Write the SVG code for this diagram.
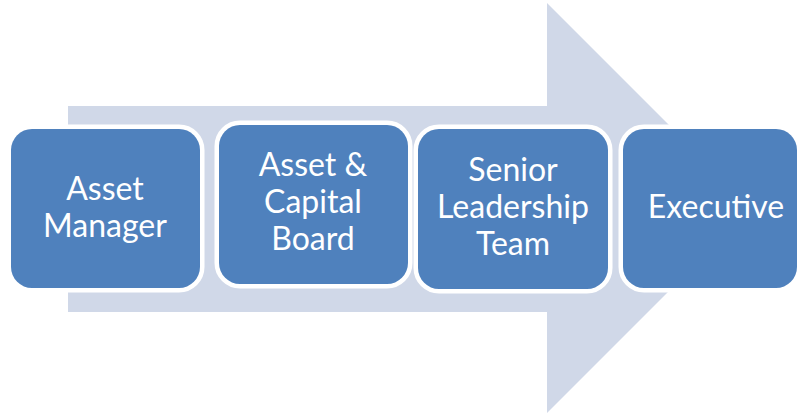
<svg xmlns="http://www.w3.org/2000/svg" width="800" height="414" viewBox="0 0 800 414">
  <style>
    .step rect { fill: #4F81BD; stroke: #FFFFFF; stroke-width: 9; paint-order: stroke; }
    .step text { fill: #FFFFFF; font-family: Lato, "Open Sans", "Liberation Sans", sans-serif; font-size: 32px; text-anchor: middle; }
  </style>
  <rect width="800" height="414" fill="#FFFFFF"/>

  <!-- background process arrow -->
  <g id="connectors">
    <polygon points="68,106 547,106 547,3 752,208 547,413 547,312 68,312" fill="#D0D8E8"/>
  </g>

  <g id="asset-manager" class="step">
    <rect x="11" y="129" width="189" height="159" rx="21"/>
    <text x="105" y="200">Asset</text>
    <text x="105" y="237">Manager</text>
  </g>

  <g id="asset-capital-board" class="step">
    <rect x="219" y="125" width="189" height="159" rx="21"/>
    <text x="313" y="176">Asset &amp;</text>
    <text x="313" y="213">Capital</text>
    <text x="313" y="250">Board</text>
  </g>

  <g id="senior-leadership-team" class="step">
    <rect x="418" y="129" width="190" height="160" rx="21"/>
    <text x="513" y="181">Senior</text>
    <text x="513" y="218">Leadership</text>
    <text x="513" y="255">Team</text>
  </g>

  <g id="executive" class="step">
    <rect x="623" y="129" width="174" height="159" rx="21"/>
    <text x="716" y="218">Executive</text>
  </g>
</svg>
